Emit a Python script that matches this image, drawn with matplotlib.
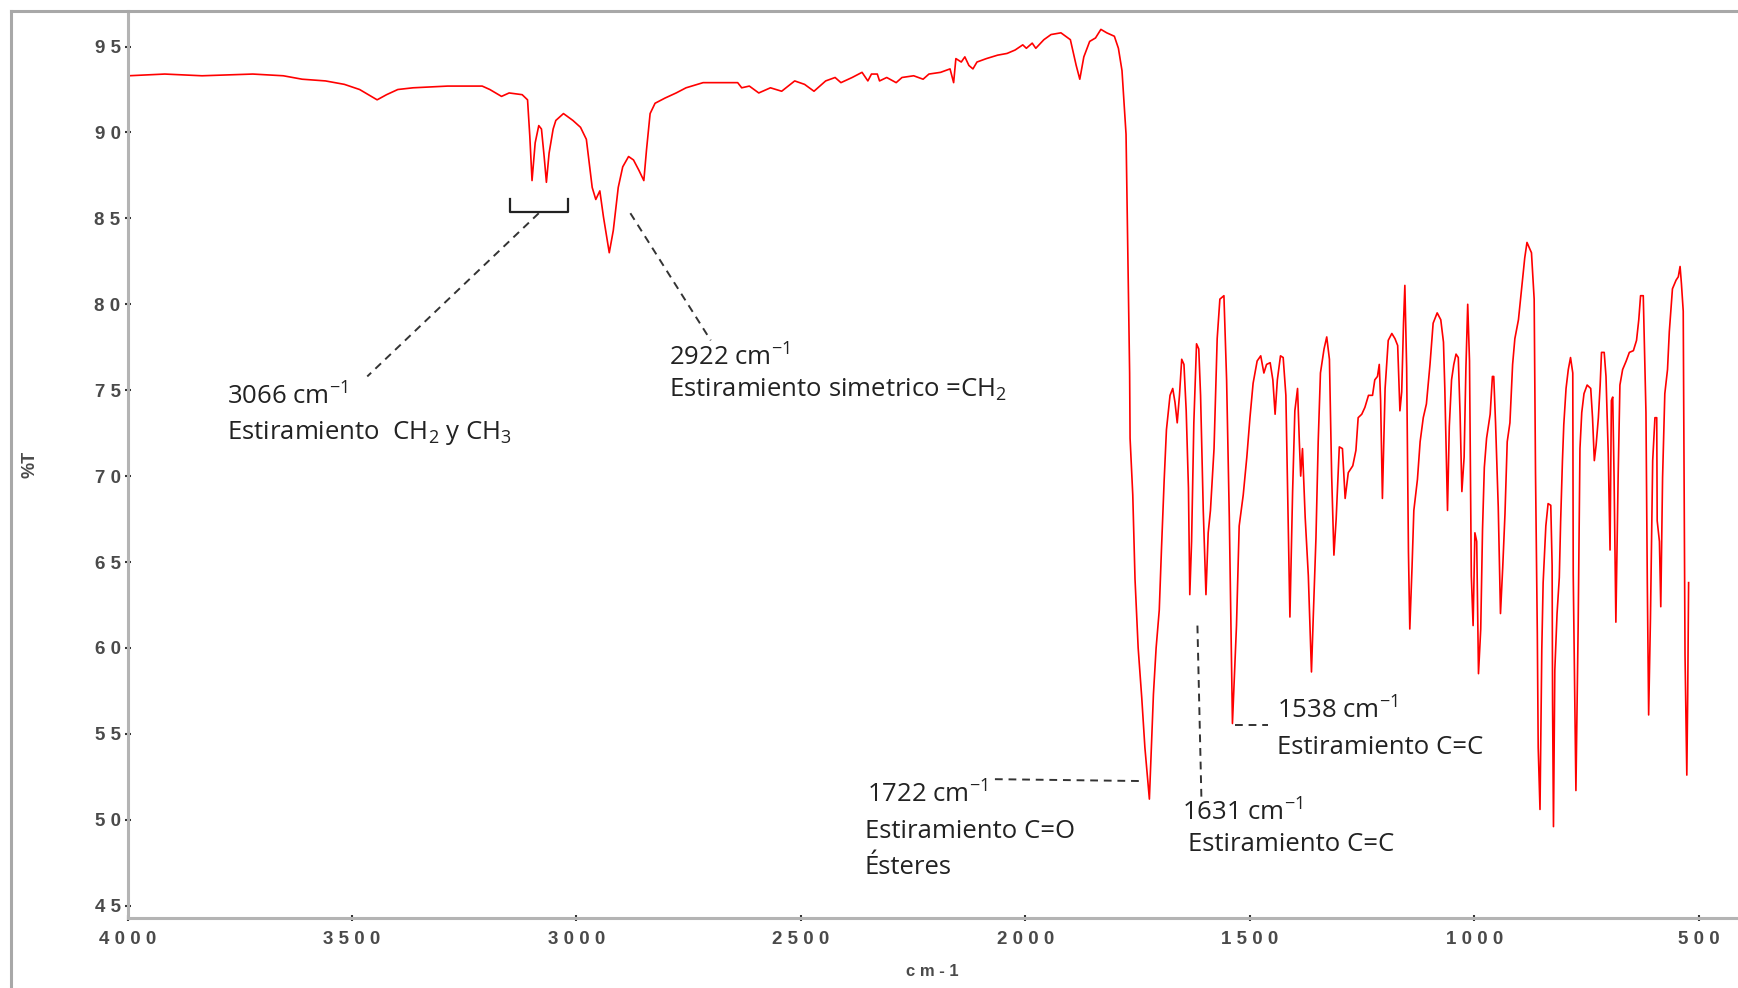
from matplotlib import pyplot as plt
from matplotlib.lines import Line2D
from matplotlib.ticker import MultipleLocator

plt.rcParams['mathtext.fontset'] = 'custom'
plt.rcParams['mathtext.rm'] = 'Open Sans'
plt.rcParams['mathtext.it'] = 'Open Sans'

# espectro IR, zona 4000-1770 cm-1
wn_high = [3998, 3917, 3834, 3721, 3653, 3611, 3559, 3517, 3483, 3444, 3423, 3398, 3364, 3287,
           3210, 3193, 3167, 3150, 3121, 3109, 3104, 3099, 3092, 3084, 3078, 3072, 3067, 3061,
           3052, 3046, 3029, 3008, 2991, 2978, 2965, 2957, 2948, 2940, 2927, 2918, 2907, 2897,
           2884, 2873, 2861, 2850, 2844, 2836, 2825, 2803, 2778, 2756, 2718, 2641, 2632, 2615,
           2594, 2568, 2543, 2514, 2492, 2471, 2445, 2424, 2411, 2386, 2364, 2351, 2343, 2330,
           2325, 2309, 2288, 2275, 2249, 2228, 2215, 2189, 2168, 2160, 2155, 2143, 2135, 2126,
           2117, 2108, 2087, 2062, 2041, 2023, 2006, 1998, 1985, 1977, 1959, 1943, 1921, 1900,
           1887, 1879, 1870, 1857, 1844, 1832, 1819, 1802, 1793, 1785, 1776, 1772]
t_high = [93.3, 93.4, 93.3, 93.4, 93.3, 93.1, 93.0, 92.8, 92.5, 91.9, 92.2, 92.5, 92.6, 92.7,
          92.7, 92.5, 92.1, 92.3, 92.2, 91.9, 89.8, 87.2, 89.4, 90.4, 90.2, 88.6, 87.1, 88.8,
          90.2, 90.7, 91.1, 90.7, 90.3, 89.6, 86.8, 86.1, 86.6, 85.1, 83.0, 84.3, 86.8, 88.0,
          88.6, 88.4, 87.8, 87.2, 89.0, 91.1, 91.7, 92.0, 92.3, 92.6, 92.9, 92.9, 92.6, 92.7,
          92.3, 92.6, 92.4, 93.0, 92.8, 92.4, 93.0, 93.2, 92.9, 93.2, 93.5, 93.0, 93.4, 93.4,
          93.0, 93.2, 92.9, 93.2, 93.3, 93.1, 93.4, 93.5, 93.7, 92.9, 94.3, 94.1, 94.4, 93.9,
          93.7, 94.1, 94.3, 94.5, 94.6, 94.8, 95.1, 94.9, 95.2, 94.9, 95.4, 95.7, 95.8, 95.4,
          93.9, 93.1, 94.4, 95.3, 95.5, 96.0, 95.8, 95.6, 94.9, 93.6, 89.9, 83.1]

# zona 1770-520 cm-1 (huella dactilar)
wn_low = [1768, 1767, 1761, 1756, 1749, 1741, 1734, 1724, 1715, 1709, 1702, 1697, 1691, 1686,
          1678, 1672, 1667, 1662, 1657, 1652, 1647, 1642, 1637, 1634, 1630, 1625, 1619, 1614,
          1610, 1604, 1598, 1593, 1588, 1580, 1573, 1567, 1558, 1552, 1546, 1541, 1539, 1533,
          1530, 1524, 1515, 1507, 1500, 1493, 1484, 1476, 1469, 1463, 1455, 1449, 1444, 1439,
          1432, 1426, 1420, 1415, 1411, 1405, 1400, 1394, 1390, 1387, 1383, 1377, 1370, 1363,
          1359, 1353, 1348, 1343, 1335, 1329, 1323, 1318, 1313, 1308, 1301, 1294, 1288, 1281,
          1271, 1264, 1259, 1251, 1244, 1236, 1227, 1222, 1216, 1212, 1209, 1205, 1199, 1192,
          1184, 1177, 1171, 1166, 1162, 1158, 1155, 1151, 1147, 1144, 1139, 1135, 1127, 1121,
          1114, 1107, 1099, 1092, 1083, 1075, 1069, 1066, 1060, 1056, 1051, 1046, 1041, 1036,
          1032, 1028, 1023, 1019, 1015, 1011, 1007, 1003, 999, 995, 991, 986, 982, 978,
          973, 965, 960, 957, 953, 947, 942, 937, 932, 927, 921, 915, 910, 902,
          895, 888, 883, 873, 867, 864, 860, 858, 854, 850, 847, 841, 836, 830,
          827, 826, 824, 821, 816, 811, 808, 804, 801, 796, 791, 786, 781, 780,
          774, 769, 765, 761, 756, 749, 741, 737, 733, 729, 724, 720, 717, 711,
          707, 702, 698, 695, 692, 689, 685, 680, 676, 670, 662, 655, 646, 639,
          634, 630, 624, 618, 615, 612, 608, 603, 598, 594, 593, 588, 585, 581,
          576, 570, 566, 563, 559, 551, 546, 542, 539, 535, 531, 527, 525, 523]
t_low = [76.0, 72.2, 68.9, 64.0, 60.0, 57.1, 54.2, 51.2, 57.3, 60.0, 62.2, 65.8, 69.8, 72.7,
         74.7, 75.1, 74.3, 73.1, 74.7, 76.8, 76.5, 73.8, 69.3, 63.1, 66.2, 73.1, 77.7, 77.4,
         74.7, 68.0, 63.1, 66.7, 68.0, 71.6, 78.0, 80.3, 80.5, 75.6, 67.6, 59.3, 55.6, 59.3,
         61.3, 67.1, 68.9, 71.1, 73.4, 75.4, 76.7, 77.0, 76.0, 76.5, 76.6, 75.6, 73.6, 75.6,
         77.0, 76.9, 74.7, 67.6, 61.8, 69.1, 73.8, 75.1, 72.0, 70.0, 71.6, 67.6, 64.2, 58.6,
         61.8, 66.4, 72.0, 76.0, 77.4, 78.1, 76.8, 70.0, 65.4, 67.5, 71.7, 71.6, 68.7, 70.2,
         70.6, 71.5, 73.4, 73.6, 74.0, 74.7, 74.7, 75.6, 75.8, 76.5, 74.4, 68.7, 75.1, 77.9,
         78.3, 78.0, 77.6, 73.8, 74.9, 78.9, 81.1, 76.3, 65.6, 61.1, 64.7, 68.0, 69.8, 72.0,
         73.4, 74.2, 76.5, 78.9, 79.5, 79.1, 77.8, 75.1, 68.0, 72.9, 75.6, 76.5, 77.1, 76.9,
         73.6, 69.1, 71.1, 76.3, 80.0, 76.7, 64.2, 61.3, 66.7, 66.2, 58.5, 61.1, 66.9, 70.5,
         72.2, 73.6, 75.8, 75.8, 73.1, 68.2, 62.0, 64.7, 67.8, 72.0, 73.1, 76.5, 78.0, 79.1,
         80.9, 82.7, 83.6, 83.0, 80.3, 70.2, 60.9, 54.2, 50.6, 59.9, 63.8, 67.1, 68.4, 68.3,
         64.8, 56.8, 49.6, 58.7, 62.0, 64.1, 67.4, 70.9, 73.0, 75.1, 76.2, 76.9, 76.0, 64.3,
         51.7, 61.3, 71.6, 73.7, 74.8, 75.3, 75.1, 73.4, 70.9, 71.8, 73.4, 75.3, 77.2, 77.2,
         75.8, 71.3, 65.7, 74.4, 74.6, 69.9, 61.5, 69.9, 75.3, 76.2, 76.7, 77.2, 77.3, 77.9,
         79.1, 80.5, 80.5, 73.7, 63.8, 56.1, 61.7, 70.9, 73.4, 73.4, 67.4, 66.2, 62.4, 69.9,
         74.8, 76.2, 78.4, 79.5, 80.9, 81.4, 81.6, 82.2, 81.2, 79.6, 59.6, 52.6, 57.3, 63.8]

xticks = [4000, 3500, 3000, 2500, 2000, 1500, 1000, 500]
xtick_labels = ["4 0 0 0", "3 5 0 0", "3 0 0 0", "2 5 0 0", "2 0 0 0", "1 5 0 0", "1 0 0 0", "5 0 0"]
yticks = [45, 50, 55, 60, 65, 70, 75, 80, 85, 90, 95]
ytick_labels = ["4 5", "5 0", "5 5", "6 0", "6 5", "7 0", "7 5", "8 0", "8 5", "9 0", "9 5"]

fig = plt.figure(figsize=(17.38, 9.88), dpi=100)
ax = fig.add_axes([127.5 / 1738, 70 / 988, 1 - 127.5 / 1738, 907 / 988])

ax.plot(wn_high + wn_low, t_high + t_low, color="#ff0000", lw=1.2)

ax.set_xlim(4000, 413)
ax.set_ylim(44.28, 97.07)

for s in ["top", "right"]:
    ax.spines[s].set_visible(False)
for s in ["left", "bottom"]:
    ax.spines[s].set_color("#b4b4b4")
    ax.spines[s].set_linewidth(2.2)

tick_font = dict(family="Liberation Sans", weight="bold", size=13.5, color="#4a4a4a")
ax.set_xticks(xticks)
ax.set_xticklabels(xtick_labels, **tick_font)
ax.set_yticks(yticks)
ax.set_yticklabels(ytick_labels, **tick_font)
ax.xaxis.set_minor_locator(MultipleLocator(100))
ax.yaxis.set_minor_locator(MultipleLocator(1))
ax.tick_params(axis="both", which="major", direction="inout", length=4, width=1.5, color="#333333")
ax.tick_params(axis="both", which="minor", direction="inout", length=2, width=1.2, color="#333333")
ax.tick_params(axis="x", pad=7)
ax.tick_params(axis="y", pad=3)

ax.set_xlabel("c m - 1", family="Liberation Sans", weight="bold", size=12, color="#4a4a4a", labelpad=12)
ax.set_ylabel("%T", family="Liberation Sans", weight="bold", size=13, color="#4a4a4a", labelpad=40)

# marco de la ventana
fig.add_artist(Line2D([11 / 1738, 11 / 1738], [0, 1 - 11 / 988], color="#a8a8a8", lw=2.2))
fig.add_artist(Line2D([11 / 1738, 1], [1 - 11 / 988, 1 - 11 / 988], color="#a8a8a8", lw=2.2))

# anotaciones
dash = dict(color="#333333", lw=1.4, ls=(0, (4, 3)))
ax.plot([3149, 3149, 3020, 3020], [86.1, 85.4, 85.4, 86.1], color="#222222", lw=1.6)
ax.plot([3084, 3466], [85.3, 75.8], **dash)
ax.plot([2880, 2701], [85.3, 77.9], **dash)
ax.plot([2068, 1739], [52.36, 52.25], **dash)
ax.plot([1617, 1608], [61.3, 51.1], **dash)
ax.plot([1533, 1459], [55.5, 55.5], **dash)

txt = dict(family="Open Sans", size=18.5, color="#222222", va="center", ha="left")
ax.text(3778, 74.6, r"3066 cm$^{\mathregular{-1}}$", **txt)
ax.text(3778, 72.5, r"Estiramiento  CH$_{\mathregular{2}}$ y CH$_{\mathregular{3}}$", **txt)
ax.text(2795, 76.9, r"2922 cm$^{\mathregular{-1}}$", **txt)
ax.text(2795, 75.0, r"Estiramiento simetrico =CH$_{\mathregular{2}}$", **txt)
ax.text(2353, 51.45, r"1722 cm$^{\mathregular{-1}}$", **txt)
ax.text(2358, 49.3, "Estiramiento C=O", **txt)
ax.text(2358, 47.2, "Ésteres", **txt)
ax.text(1652, 50.4, r"1631 cm$^{\mathregular{-1}}$", **txt)
ax.text(1638, 48.55, "Estiramiento C=C", **txt)
ax.text(1440, 56.3, r"1538 cm$^{\mathregular{-1}}$", **txt)
ax.text(1440, 54.2, "Estiramiento C=C", **txt)

plt.savefig("out.png", dpi=100)
